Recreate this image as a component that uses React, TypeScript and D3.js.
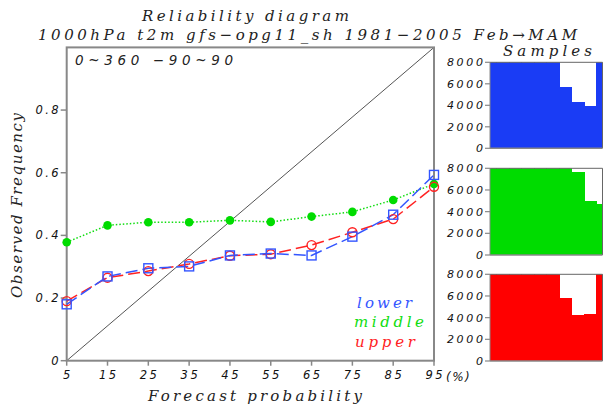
import React from "react";
import * as d3 from "d3";

const probs = [5, 15, 25, 35, 45, 55, 65, 75, 85, 95];
const lowerFreq = [0.18, 0.269, 0.295, 0.301, 0.336, 0.342, 0.336, 0.396, 0.466, 0.593];
const middleFreq = [0.378, 0.432, 0.442, 0.442, 0.448, 0.443, 0.46, 0.475, 0.513, 0.564];
const upperFreq = [0.19, 0.265, 0.286, 0.309, 0.335, 0.34, 0.369, 0.41, 0.452, 0.555];
const lowerSamples = [30000, 15000, 12000, 10000, 9000, 8500, 5670, 4280, 3970, 9000];
const middleSamples = [30000, 15000, 12000, 10000, 9000, 8500, 8100, 7630, 4990, 4740];
const upperSamples = [30000, 15000, 12000, 10000, 9000, 8500, 5790, 4250, 4310, 9000];
const yTicks = [0, 0.2, 0.4, 0.6, 0.8];
const sampleTicks = [0, 2000, 4000, 6000, 8000];

const BLUE_LINE = "#3355ff";
const GREEN_LINE = "#11dd11";
const RED_LINE = "#ff2222";
const BLUE_FILL = "#1a3cf5";
const GREEN_FILL = "#00dc00";
const RED_FILL = "#ff0000";

const tickFont = "'DejaVu Sans', sans-serif";
const titleFont = "'DejaVu Serif', serif";

export default function App() {
  const x = d3.scaleLinear().domain([5, 95]).range([66.7, 434]);
  const y = d3.scaleLinear().domain([0, 1]).range([360.7, 47.4]);
  const line = (vals: number[]) =>
    d3.line<number>().x((_, i) => x(probs[i])).y((v) => y(v))(vals) || "";

  const px = d3.scaleLinear().domain([5, 95]).range([490, 602.5]);
  const panels = [
    { data: lowerSamples, fill: BLUE_FILL, top: 62.3, bottom: 148.3 },
    { data: middleSamples, fill: GREEN_FILL, top: 168.3, bottom: 255 },
    { data: upperSamples, fill: RED_FILL, top: 274.3, bottom: 361 },
  ];
  const tls = 2.5;

  return (
    <svg width={603} height={410} style={{ position: "absolute", left: 0, top: 0, background: "#fff" }}>
      <text x={142} y={21} fontFamily={titleFont} fontStyle="italic" fontSize={15} letterSpacing={3.1} textLength={210} fill="#222">
        Reliability diagram
      </text>
      <text x={38} y={40} fontFamily={titleFont} fontStyle="italic" fontSize={15} textLength={539} lengthAdjust="spacing" fill="#222">
        1000hPa t2m gfs−opg11_sh 1981−2005 Feb→MAM
      </text>
      <text x={503} y={56} fontFamily={titleFont} fontStyle="italic" fontSize={15} textLength={89} lengthAdjust="spacing" fill="#222">
        Samples
      </text>

      {/* main plot */}
      <line x1={x(5)} y1={y(0)} x2={x(95)} y2={y(1)} stroke="#555" strokeWidth={1} />
      <rect x={x(5)} y={y(1)} width={x(95) - x(5)} height={y(0) - y(1)} fill="none" stroke="#888" strokeWidth={2} />
      {yTicks.map((t) => (
        <g key={t}>
          <line x1={x(5) - 6} x2={x(5)} y1={y(t)} y2={y(t)} stroke="#888" strokeWidth={1.5} />
          <text x={x(5) - 8 + tls} y={y(t) + 4} textAnchor="end" fontFamily={tickFont} fontStyle="italic" fontSize={11.5} letterSpacing={tls} fill="#111">
            {t === 0 ? "0" : t.toFixed(1)}
          </text>
        </g>
      ))}
      {probs.map((p) => (
        <g key={p}>
          <line x1={x(p)} x2={x(p)} y1={y(0)} y2={y(0) + 5} stroke="#888" strokeWidth={1.5} />
          <text x={x(p) + tls / 2} y={y(0) + 18} textAnchor="middle" fontFamily={tickFont} fontStyle="italic" fontSize={11.5} letterSpacing={tls} fill="#111">
            {p}
          </text>
        </g>
      ))}
      <text x={446} y={381} fontFamily={tickFont} fontStyle="italic" fontSize={12} letterSpacing={1.5} fill="#111">
        (%)
      </text>
      <text x={148} y={401} fontFamily={titleFont} fontStyle="italic" fontSize={15} textLength={214} lengthAdjust="spacing" fill="#222">
        Forecast probability
      </text>
      <text transform="translate(22,298) rotate(-90)" fontFamily={titleFont} fontStyle="italic" fontSize={15} textLength={185} lengthAdjust="spacing" fill="#222">
        Observed Frequency
      </text>
      <text x={75} y={65} fontFamily={tickFont} fontStyle="italic" fontSize={13.5} textLength={158} lengthAdjust="spacing" fill="#222">
        0~360  −90~90
      </text>

      <path d={line(middleFreq)} fill="none" stroke={GREEN_LINE} strokeWidth={1.5} strokeDasharray="1.5,2" />
      <path d={line(upperFreq)} fill="none" stroke={RED_LINE} strokeWidth={1.5} strokeDasharray="12,5" />
      <path d={line(lowerFreq)} fill="none" stroke={BLUE_LINE} strokeWidth={1.5} strokeDasharray="12,5" />
      {middleFreq.map((v, i) => (
        <circle key={"m" + i} cx={x(probs[i])} cy={y(v)} r={4.3} fill={GREEN_FILL} />
      ))}
      {upperFreq.map((v, i) => (
        <circle key={"u" + i} cx={x(probs[i])} cy={y(v)} r={4.5} fill="none" stroke={RED_LINE} strokeWidth={1.4} />
      ))}
      {lowerFreq.map((v, i) => (
        <rect key={"l" + i} x={x(probs[i]) - 4.5} y={y(v) - 4.5} width={9} height={9} fill="none" stroke={BLUE_LINE} strokeWidth={1.4} />
      ))}

      <text x={357} y={308} fontFamily={titleFont} fontStyle="italic" fontSize={15} textLength={55} lengthAdjust="spacing" fill={BLUE_LINE}>
        lower
      </text>
      <text x={354} y={327} fontFamily={titleFont} fontStyle="italic" fontSize={15} textLength={70} lengthAdjust="spacing" fill={GREEN_LINE}>
        middle
      </text>
      <text x={355} y={347} fontFamily={titleFont} fontStyle="italic" fontSize={15} textLength={60} lengthAdjust="spacing" fill={RED_LINE}>
        upper
      </text>

      {/* sample panels */}
      {panels.map((pn, k) => {
        const sy = d3.scaleLinear().domain([0, 8000]).range([pn.bottom, pn.top]);
        const clipId = "clip" + k;
        return (
          <g key={k}>
            <defs>
              <clipPath id={clipId}>
                <rect x={px(5)} y={pn.top} width={px(95) - px(5)} height={pn.bottom - pn.top} />
              </clipPath>
            </defs>
            <g clipPath={`url(#${clipId})`} shapeRendering="crispEdges">
              {pn.data.map((v, i) => (
                <rect key={i} x={px(probs[i] - 5)} y={sy(Math.min(v, 8000))} width={px(probs[i] + 5) - px(probs[i] - 5) + 1} height={pn.bottom - sy(Math.min(v, 8000))} fill={pn.fill} />
              ))}
            </g>
            <path d={`M${px(5)},${pn.top}H${px(95)}V${pn.bottom}`} fill="none" stroke="#666" strokeWidth={1} />
            <line x1={px(5)} x2={px(95)} y1={pn.bottom} y2={pn.bottom} stroke="#888" strokeWidth={1.5} />
            <line x1={px(5)} x2={px(5)} y1={pn.top} y2={pn.bottom} stroke="#888" strokeWidth={1} />
            {sampleTicks.map((t) => (
              <g key={t}>
                <line x1={px(5) - 5} x2={px(5)} y1={sy(t)} y2={sy(t)} stroke="#888" strokeWidth={1.2} />
                <text x={px(5) - 7 + 2.7} y={sy(t) + 4} textAnchor="end" fontFamily={tickFont} fontStyle="italic" fontSize={11} letterSpacing={2.7} fill="#111">
                  {t}
                </text>
              </g>
            ))}
          </g>
        );
      })}
    </svg>
  );
}
